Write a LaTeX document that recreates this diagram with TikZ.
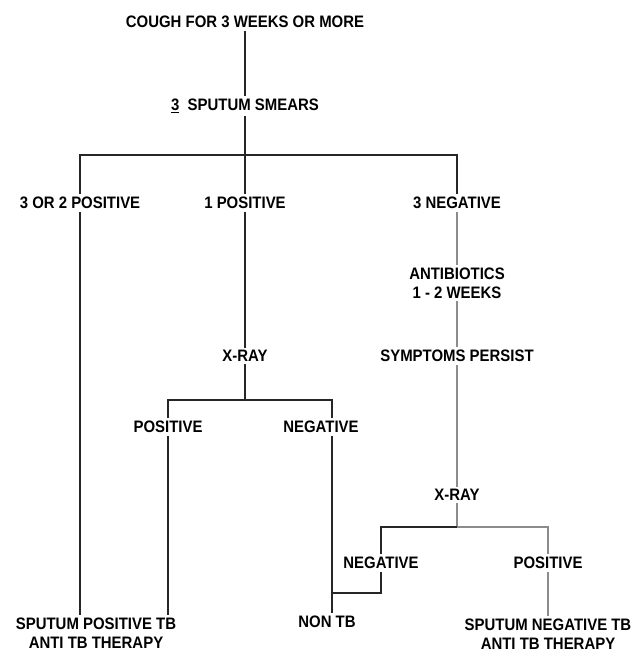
\documentclass[tikz,border=0pt]{standalone}
\usepackage{fontspec}
\setmainfont{Liberation Sans}[FakeStretch=0.9]
\usepackage{tikz}
\usetikzlibrary{positioning}

\tikzset{
  lbl/.style={font=\bfseries\fontsize{16.6}{19}\selectfont, inner sep=2.5pt, align=center},
  link/.style={line width=1.6pt, black!85},
  faint/.style={line width=1.1pt, black!45},
}

\begin{document}
\begin{tikzpicture}[x=1pt,y=-1pt]
  \useasboundingbox (0,0) rectangle (635,652);
  \node[lbl] (cough) at (245,22) {COUGH FOR 3 WEEKS OR MORE};
  \node[lbl] (smears) at (245,106) {\underline{3}\ \ SPUTUM SMEARS};
  \node[lbl] (pos32) at (80,203) {3 OR 2 POSITIVE};
  \node[lbl] (pos1) at (245,203) {1 POSITIVE};
  \node[lbl] (neg3) at (457,203) {3 NEGATIVE};
  \node[lbl] (abx) at (457,283) {ANTIBIOTICS\\1 - 2 WEEKS};
  \node[lbl] (xray1) at (245,356) {X-RAY};
  \node[lbl] (persist) at (457,356) {SYMPTOMS PERSIST};
  \node[lbl] (xpos) at (168,427) {POSITIVE};
  \node[lbl] (xneg) at (321,427) {NEGATIVE};
  \node[lbl] (xray2) at (457,495) {X-RAY};
  \node[lbl] (rneg) at (381,563) {NEGATIVE};
  \node[lbl] (rpos) at (548,563) {POSITIVE};
  \node[lbl] (sptb) at (96,633) {SPUTUM POSITIVE TB\\ANTI TB THERAPY};
  \node[lbl] (nontb) at (327,622) {NON TB};
  \node[lbl] (sntb) at (548,634) {SPUTUM NEGATIVE TB\\ANTI TB THERAPY};

  \coordinate (split1) at (245,155);
  \coordinate (split2) at (245,400);
  \coordinate (br) at (332,400);
  \coordinate (split3) at (457,527);
  \coordinate (join) at (332,593);

  \draw[link] (cough) -- (smears);
  \draw[link] (smears) -- (split1) -- (pos1);
  \draw[link] (pos32) |- (split1) -| (neg3);
  \draw[link] (pos32) -- (pos32 |- sptb.north);
  \draw[link] (pos1) -- (xray1);
  \draw[faint] (neg3) -- (abx);
  \draw[faint] (abx) -- (persist);
  \draw[link] (xray1) -- (split2);
  \draw[link] (xpos) |- (br) -- (br |- xneg.north);
  \draw[link] (xpos) -- (xpos |- sptb.north);
  \draw[link] (br |- xneg.south) -- (br |- nontb.north);
  \draw[faint] (persist) -- (xray2);
  \draw[faint] (xray2) -- (split3);
  \draw[link] (rneg) |- (split3);
  \draw[faint] (split3) -| (rpos);
  \draw[link] (rneg) |- (join);
  \draw[faint] (rpos) -- (sntb);
\end{tikzpicture}
\end{document}
